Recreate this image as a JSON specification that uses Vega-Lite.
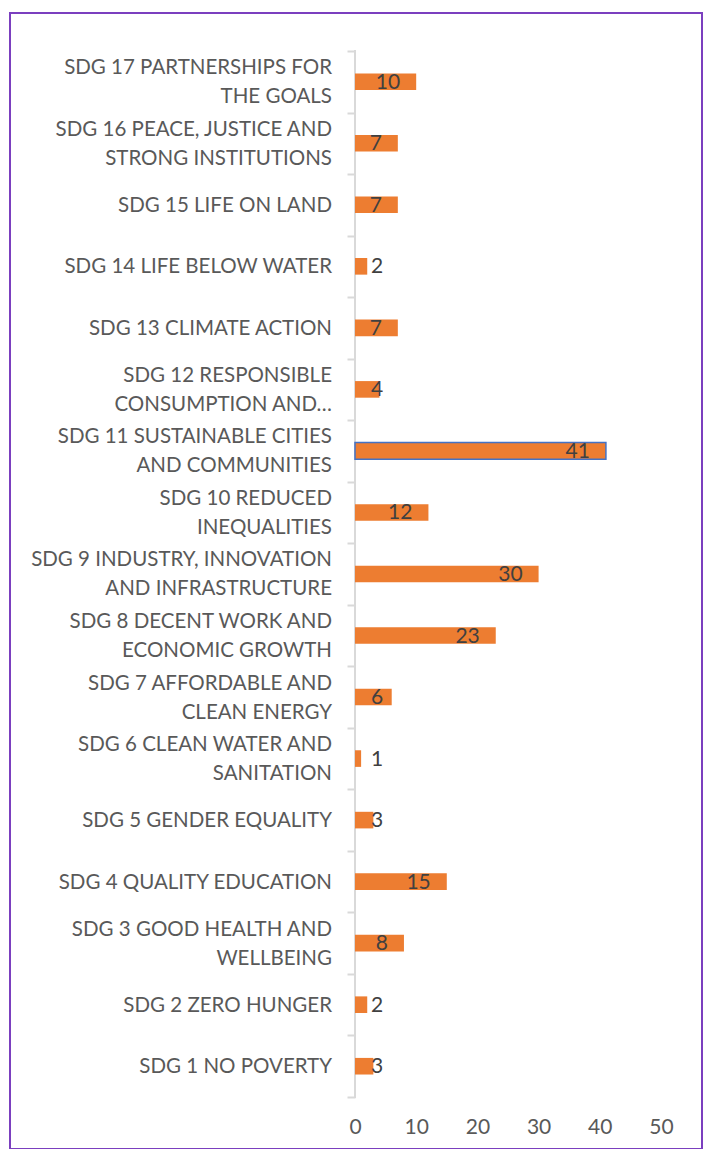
{
  "$schema": "https://vega.github.io/schema/vega-lite/v6.json",
  "width": 692,
  "height": 1136,
  "autosize": {"type": "none"},
  "padding": {"left": 10, "top": 13, "right": 5, "bottom": 0},
  "background": "white",
  "config": {
    "view": {"stroke": "#7B3FBF", "strokeWidth": 2},
    "font": "Lato"
  },
  "data": {
    "values": [
      {"sdg": "SDG 17", "lines": ["SDG 17 PARTNERSHIPS FOR", "THE GOALS"], "value": 10},
      {"sdg": "SDG 16", "lines": ["SDG 16 PEACE, JUSTICE AND", "STRONG INSTITUTIONS"], "value": 7},
      {"sdg": "SDG 15", "lines": ["SDG 15 LIFE ON LAND"], "value": 7},
      {"sdg": "SDG 14", "lines": ["SDG 14 LIFE BELOW WATER"], "value": 2},
      {"sdg": "SDG 13", "lines": ["SDG 13 CLIMATE ACTION"], "value": 7},
      {"sdg": "SDG 12", "lines": ["SDG 12 RESPONSIBLE", "CONSUMPTION AND…"], "value": 4},
      {"sdg": "SDG 11", "lines": ["SDG 11 SUSTAINABLE CITIES", "AND COMMUNITIES"], "value": 41},
      {"sdg": "SDG 10", "lines": ["SDG 10 REDUCED", "INEQUALITIES"], "value": 12},
      {"sdg": "SDG 9", "lines": ["SDG 9 INDUSTRY, INNOVATION", "AND INFRASTRUCTURE"], "value": 30},
      {"sdg": "SDG 8", "lines": ["SDG 8 DECENT WORK AND", "ECONOMIC GROWTH"], "value": 23},
      {"sdg": "SDG 7", "lines": ["SDG 7 AFFORDABLE AND", "CLEAN ENERGY"], "value": 6},
      {"sdg": "SDG 6", "lines": ["SDG 6 CLEAN WATER AND", "SANITATION"], "value": 1},
      {"sdg": "SDG 5", "lines": ["SDG 5 GENDER EQUALITY"], "value": 3},
      {"sdg": "SDG 4", "lines": ["SDG 4 QUALITY EDUCATION"], "value": 15},
      {"sdg": "SDG 3", "lines": ["SDG 3 GOOD HEALTH AND", "WELLBEING"], "value": 8},
      {"sdg": "SDG 2", "lines": ["SDG 2 ZERO HUNGER"], "value": 2},
      {"sdg": "SDG 1", "lines": ["SDG 1 NO POVERTY"], "value": 3}
    ]
  },
  "encoding": {
    "y": {
      "field": "sdg",
      "type": "nominal",
      "sort": null,
      "scale": {"paddingInner": 0, "paddingOuter": 0.7313, "align": 0.422},
      "axis": {
        "title": null,
        "offset": -345,
        "domain": false,
        "ticks": true,
        "tickBand": "extent",
        "tickSize": 8,
        "tickColor": "#D9D9D9",
        "tickWidth": 2,
        "labels": false
      }
    }
  },
  "layer": [
    {
      "mark": {"type": "rect", "fill": null, "stroke": "#D9D9D9", "strokeWidth": 2},
      "encoding": {
        "x": {"datum": 0, "type": "quantitative", "scale": {"domain": [-56.37, 56.7], "nice": false, "zero": false}},
        "x2": {"datum": 0.001}
      }
    },
    {
      "mark": {"type": "bar", "height": {"band": 0.27}, "color": "#ED7D31"},
      "encoding": {
        "x": {
          "field": "value",
          "type": "quantitative",
          "scale": {"domain": [-56.37, 56.7], "nice": false, "zero": false},
          "axis": {
            "title": null,
            "values": [0, 10, 20, 30, 40, 50],
            "offset": -22,
            "domain": false,
            "ticks": false,
            "grid": false,
            "labelPadding": 0,
            "labelBaseline": "middle",
            "labelFontSize": 21,
            "labelColor": "#595959"
          }
        },
        "x2": {"datum": 0},
        "stroke": {"condition": {"test": "datum.value == 41", "value": "#4472C4"}, "value": null},
        "strokeWidth": {"value": 1.5}
      }
    },
    {
      "transform": [{"filter": "length(datum.lines) == 1"}],
      "mark": {"type": "text", "align": "right", "baseline": "middle", "dx": -23, "dy": 1, "fontSize": 20.5, "color": "#595959", "lineHeight": 29},
      "encoding": {
        "x": {"datum": 0, "type": "quantitative"},
        "text": {"field": "lines"}
      }
    },
    {
      "transform": [{"filter": "length(datum.lines) == 2"}],
      "mark": {"type": "text", "align": "right", "baseline": "middle", "dx": -23, "dy": -13.5, "fontSize": 20.5, "color": "#595959", "lineHeight": 29},
      "encoding": {
        "x": {"datum": 0, "type": "quantitative"},
        "text": {"field": "lines"}
      }
    },
    {
      "transform": [{"filter": "datum.value >= 7"}],
      "mark": {"type": "text", "align": "right", "baseline": "middle", "dx": -16, "dy": 1, "fontSize": 21, "color": "#404040"},
      "encoding": {
        "x": {"field": "value", "type": "quantitative"},
        "text": {"field": "value", "type": "quantitative"}
      }
    },
    {
      "transform": [{"filter": "datum.value < 7"}],
      "mark": {"type": "text", "align": "left", "baseline": "middle", "dx": 16, "dy": 1, "fontSize": 21, "color": "#404040"},
      "encoding": {
        "x": {"datum": 0, "type": "quantitative"},
        "text": {"field": "value", "type": "quantitative"}
      }
    }
  ]
}
